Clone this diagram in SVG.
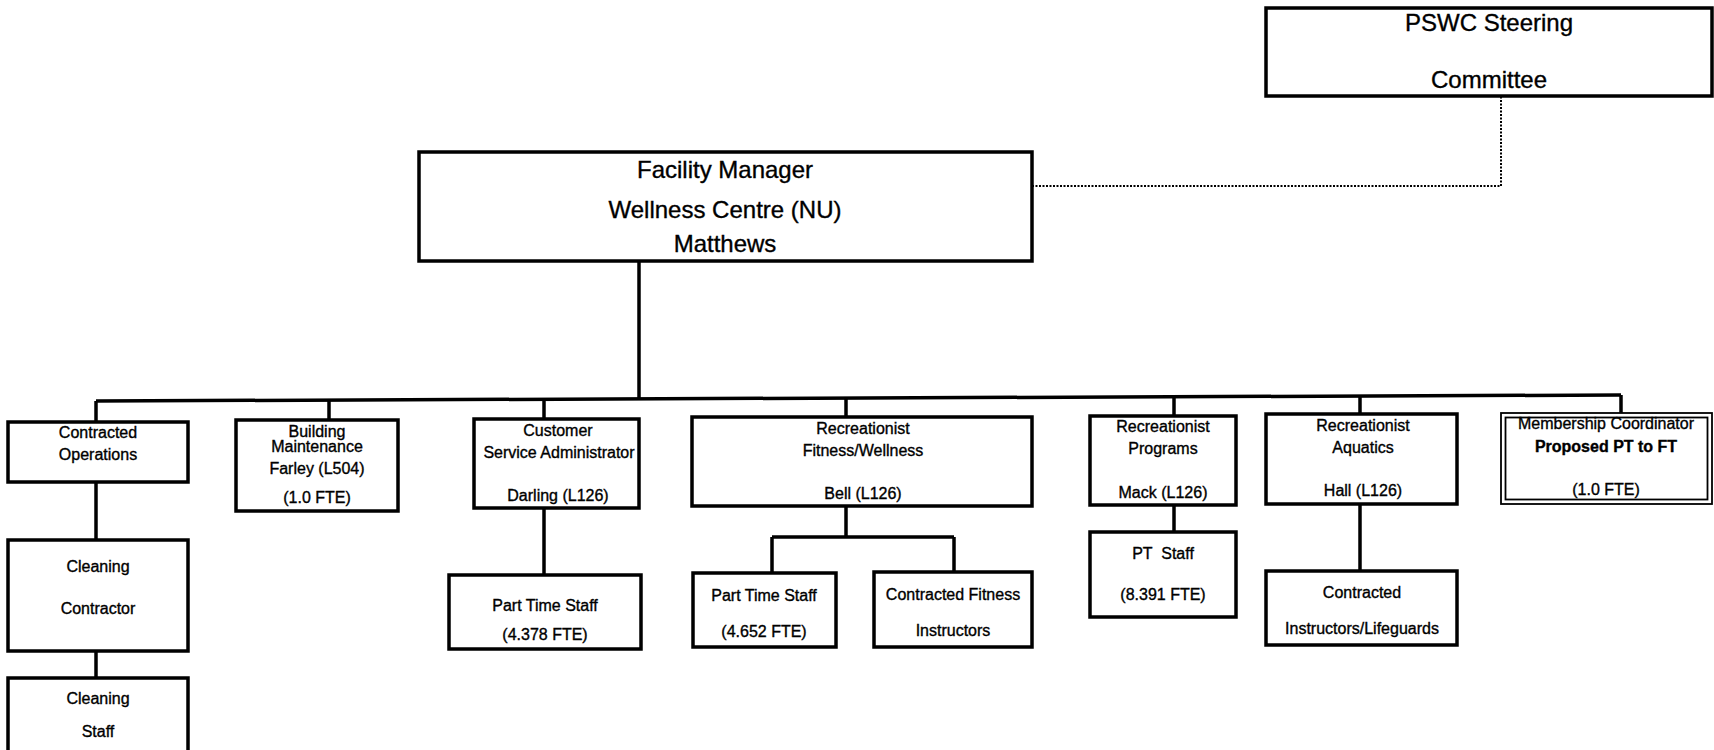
<svg xmlns="http://www.w3.org/2000/svg" width="1714" height="750" viewBox="0 0 1714 750">
<style>
.box{fill:#fff;stroke:#000;stroke-width:3.5}
.thin{fill:none;stroke:#000;stroke-width:1.8}
.ln{fill:none;stroke:#000;stroke-width:3.5}
.dot{fill:none;stroke:#000;stroke-width:2;stroke-dasharray:2 1.5}
text{font-family:"Liberation Sans",Arial,sans-serif;fill:#000;text-anchor:middle;stroke:#000;stroke-width:0.35}
.big{font-size:24px}
.sm{font-size:16px}
.b{font-weight:bold}
</style>
<rect width="1714" height="750" fill="#fff"/>
<g id="connectors">
<path class="dot" d="M1032,186 H1501 V96"/>
<path class="ln" d="M639,261 V399"/>
<path class="ln" d="M96,401 L1621,395"/>
<path class="ln" d="M96,401 V422"/>
<path class="ln" d="M329,400 V420"/>
<path class="ln" d="M544,399 V419"/>
<path class="ln" d="M846,398 V417"/>
<path class="ln" d="M1174,397 V416"/>
<path class="ln" d="M1360,396 V414"/>
<path class="ln" d="M1621,395 V413"/>
<path class="ln" d="M96,482 V540"/>
<path class="ln" d="M96,651 V678"/>
<path class="ln" d="M544,508 V575"/>
<path class="ln" d="M846,506 V537 M772,537 H954 M772,537 V573 M954,537 V572"/>
<path class="ln" d="M1174,505 V532"/>
<path class="ln" d="M1360,504 V571"/>
</g>
<g id="pswc">
<rect class="box" x="1266" y="8" width="446" height="88"/>
<text class="big" x="1489" y="31">PSWC Steering</text>
<text class="big" x="1489" y="88">Committee</text>
</g>
<g id="facility-manager">
<rect class="box" x="419" y="152" width="613" height="109"/>
<text class="big" x="725" y="178">Facility Manager</text>
<text class="big" x="725" y="218">Wellness Centre (NU)</text>
<text class="big" x="725" y="252">Matthews</text>
</g>
<g id="contracted-operations">
<rect class="box" x="8" y="422" width="180" height="60"/>
<text class="sm" x="98" y="438">Contracted</text>
<text class="sm" x="98" y="460">Operations</text>
</g>
<g id="building-maintenance">
<rect class="box" x="236" y="420" width="162" height="91"/>
<text class="sm" x="317" y="437">Building</text>
<text class="sm" x="317" y="452">Maintenance</text>
<text class="sm" x="317" y="474">Farley (L504)</text>
<text class="sm" x="317" y="503">(1.0 FTE)</text>
</g>
<g id="customer-service">
<rect class="box" x="474" y="419" width="165" height="89"/>
<text class="sm" x="558" y="436">Customer</text>
<text class="sm" x="559" y="458">Service Administrator</text>
<text class="sm" x="558" y="501">Darling (L126)</text>
</g>
<g id="rec-fitness">
<rect class="box" x="692" y="417" width="340" height="89"/>
<text class="sm" x="863" y="434">Recreationist</text>
<text class="sm" x="863" y="456">Fitness/Wellness</text>
<text class="sm" x="863" y="499">Bell (L126)</text>
</g>
<g id="rec-programs">
<rect class="box" x="1090" y="416" width="146" height="89"/>
<text class="sm" x="1163" y="432">Recreationist</text>
<text class="sm" x="1163" y="454">Programs</text>
<text class="sm" x="1163" y="498">Mack (L126)</text>
</g>
<g id="rec-aquatics">
<rect class="box" x="1266" y="414" width="191" height="90"/>
<text class="sm" x="1363" y="431">Recreationist</text>
<text class="sm" x="1363" y="453">Aquatics</text>
<text class="sm" x="1363" y="496">Hall (L126)</text>
</g>
<g id="membership">
<rect class="thin" x="1501" y="413" width="211" height="91" stroke-width="2.5"/>
<rect class="thin" x="1505.5" y="417.5" width="202" height="82"/>
<text class="sm" x="1606" y="429">Membership Coordinator</text>
<text class="sm b" x="1606" y="452">Proposed PT to FT</text>
<text class="sm" x="1606" y="495">(1.0 FTE)</text>
</g>
<g id="cleaning-contractor">
<rect class="box" x="8" y="540" width="180" height="111"/>
<text class="sm" x="98" y="572">Cleaning</text>
<text class="sm" x="98" y="614">Contractor</text>
</g>
<g id="cleaning-staff">
<rect class="box" x="8" y="678" width="180" height="78"/>
<text class="sm" x="98" y="704">Cleaning</text>
<text class="sm" x="98" y="737">Staff</text>
</g>
<g id="cs-part-time">
<rect class="box" x="449" y="575" width="192" height="74"/>
<text class="sm" x="545" y="611">Part Time Staff</text>
<text class="sm" x="545" y="640">(4.378 FTE)</text>
</g>
<g id="fit-part-time">
<rect class="box" x="693" y="573" width="143" height="74"/>
<text class="sm" x="764" y="601">Part Time Staff</text>
<text class="sm" x="764" y="637">(4.652 FTE)</text>
</g>
<g id="fit-contracted">
<rect class="box" x="874" y="572" width="158" height="75"/>
<text class="sm" x="953" y="600">Contracted Fitness</text>
<text class="sm" x="953" y="636">Instructors</text>
</g>
<g id="pt-staff">
<rect class="box" x="1090" y="532" width="146" height="85"/>
<text class="sm" x="1163" y="559" xml:space="preserve">PT  Staff</text>
<text class="sm" x="1163" y="600">(8.391 FTE)</text>
</g>
<g id="aquatics-contracted">
<rect class="box" x="1266" y="571" width="191" height="74"/>
<text class="sm" x="1362" y="598">Contracted</text>
<text class="sm" x="1362" y="634">Instructors/Lifeguards</text>
</g>
</svg>
